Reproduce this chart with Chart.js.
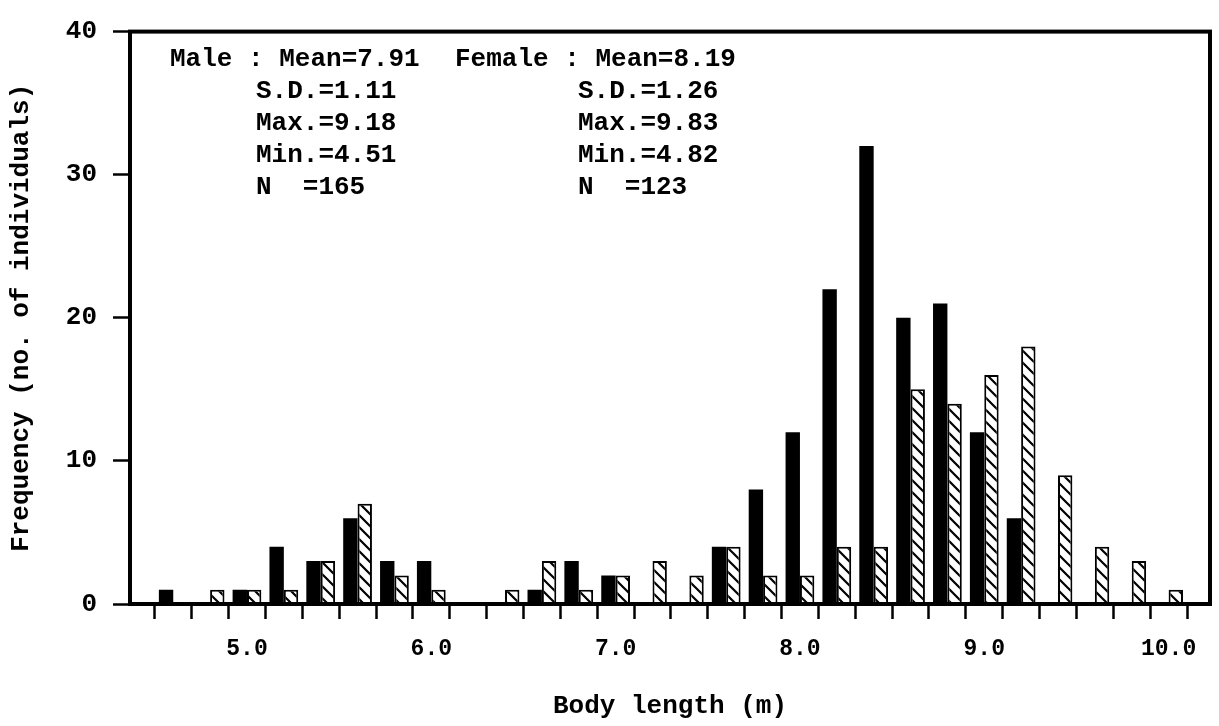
<!DOCTYPE html>
<html>
<head>
<meta charset="utf-8">
<script src="https://cdn.jsdelivr.net/npm/chart.js@4.4.1/dist/chart.umd.min.js"></script>
<style>
  html, body { margin: 0; padding: 0; background: #fff; }
  #wrap { width: 1219px; height: 726px; }
</style>
</head>
<body>
<div id="wrap"><canvas id="chart" width="1219" height="726"></canvas></div>
<script>
// body length bins (m), 0.2 m wide
const lengths = [4.6, 4.8, 5.0, 5.2, 5.4, 5.6, 5.8, 6.0, 6.2, 6.4, 6.6, 6.8, 7.0, 7.2,
                 7.4, 7.6, 7.8, 8.0, 8.2, 8.4, 8.6, 8.8, 9.0, 9.2, 9.4, 9.6, 9.8, 10.0];
const male   = [1, 0, 1, 4, 3, 6, 3, 3, 0, 0, 1, 3, 2, 0,
                0, 4, 8, 12, 22, 32, 20, 21, 12, 6, 0, 0, 0, 0];
const female = [0, 1, 1, 1, 3, 7, 2, 1, 0, 1, 3, 1, 2, 3,
                2, 4, 2, 2, 4, 4, 15, 14, 16, 18, 9, 4, 3, 1];
const xLabels = [5, 6, 7, 8, 9, 10];
const yTicks = [0, 10, 20, 30, 40];

const maleStats = ['Male : Mean=7.91', 'S.D.=1.11', 'Max.=9.18', 'Min.=4.51', 'N  =165'];
const femaleStats = ['Female : Mean=8.19', 'S.D.=1.26', 'Max.=9.83', 'Min.=4.82', 'N  =123'];

const FONT = "'Liberation Mono', 'DejaVu Sans Mono', monospace";

function hatchPattern() {
  const c = document.createElement('canvas');
  c.width = 12;
  c.height = 12;
  const g = c.getContext('2d');
  g.fillStyle = '#fff';
  g.fillRect(0, 0, 12, 12);
  g.strokeStyle = '#000';
  g.lineWidth = 2.2;
  g.beginPath();
  g.moveTo(-1, -1); g.lineTo(13, 13);
  g.moveTo(-7, 5); g.lineTo(7, 19);
  g.moveTo(5, -7); g.lineTo(19, 7);
  g.stroke();
  return g.createPattern(c, 'repeat');
}

const frame = {
  id: 'frame',
  afterDatasetsDraw(chart) {
    const { ctx, chartArea: a } = chart;
    ctx.save();
    ctx.strokeStyle = '#000';
    ctx.lineWidth = 4;
    ctx.strokeRect(a.left, a.top, a.right - a.left, a.bottom - a.top);
    ctx.restore();
  },
  afterDraw(chart) {
    const { ctx } = chart;
    ctx.save();
    ctx.fillStyle = '#000';
    ctx.font = `bold 26px ${FONT}`;
    ctx.textBaseline = 'middle';
    maleStats.forEach((t, i) => ctx.fillText(t, i === 0 ? 170 : 256, 59 + i * 32));
    femaleStats.forEach((t, i) => ctx.fillText(t, i === 0 ? 455 : 578, 59 + i * 32));
    ctx.restore();
  }
};

new Chart(document.getElementById('chart'), {
  type: 'bar',
  data: {
    datasets: [
      {
        label: 'Male',
        data: lengths.map((x, i) => ({ x, y: male[i] })),
        backgroundColor: '#000',
        borderWidth: 0
      },
      {
        label: 'Female',
        data: lengths.map((x, i) => ({ x, y: female[i] })),
        backgroundColor: hatchPattern(),
        borderColor: '#000',
        borderWidth: 2
      }
    ]
  },
  options: {
    responsive: false,
    animation: false,
    layout: { padding: { top: 18, right: 9, left: 0, bottom: 0 } },
    categoryPercentage: 0.78,
    barPercentage: 1,
    plugins: { legend: { display: false }, tooltip: { enabled: false } },
    scales: {
      x: {
        type: 'linear',
        min: 4.47,
        max: 10.12,
        afterBuildTicks: (axis) => { axis.ticks = lengths.map((v) => ({ value: v })); },
        afterFit: (scale) => { scale.height = 122; },
        border: { display: false },
        grid: { display: true, drawOnChartArea: false, drawTicks: true, tickLength: 15, tickWidth: 2.5, tickColor: '#000' },
        ticks: {
          autoSkip: false,
          maxRotation: 0,
          padding: 16,
          color: '#000',
          font: { family: FONT, size: 23, weight: 'bold' },
          callback: (v) => (xLabels.includes(Math.round(v * 10) / 10) ? Number(v).toFixed(1) : '')
        },
        title: {
          display: true,
          text: 'Body length (m)',
          color: '#000',
          font: { family: FONT, size: 26, weight: 'bold' },
          padding: { top: 0, bottom: 4 }
        }
      },
      y: {
        min: 0,
        max: 40,
        afterBuildTicks: (axis) => { axis.ticks = yTicks.map((v) => ({ value: v })); },
        afterFit: (scale) => { scale.width = 130; },
        border: { display: false },
        grid: { display: true, drawOnChartArea: false, drawTicks: true, tickLength: 17, tickWidth: 2.5, tickColor: '#000' },
        ticks: {
          padding: 16,
          color: '#000',
          font: { family: FONT, size: 26, weight: 'bold' }
        },
        title: {
          display: true,
          text: 'Frequency (no. of individuals)',
          color: '#000',
          font: { family: FONT, size: 26, weight: 'bold' },
          padding: { top: 6, bottom: 0 }
        }
      }
    }
  },
  plugins: [frame]
});
</script>
</body>
</html>
